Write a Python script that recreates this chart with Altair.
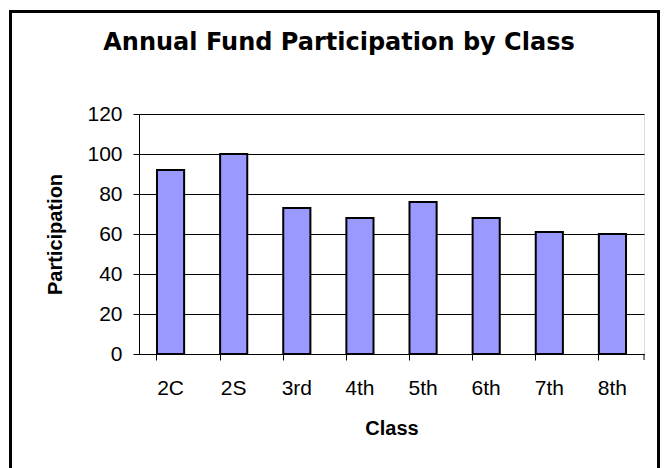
import altair as alt
import pandas as pd

classes = ["2C", "2S", "3rd", "4th", "5th", "6th", "7th", "8th"]
participation = [92, 100, 73, 68, 76, 68, 61, 60]
chart_title = "Annual Fund Participation by Class"

df = pd.DataFrame({"Class": classes, "Participation": participation})

W, H = 505, 240

x_enc = alt.X(
    "Class:N",
    sort=classes,
    scale=alt.Scale(paddingInner=0.57, paddingOuter=0.285),
    axis=alt.Axis(
        title="Class",
        labelAngle=0,
        bandPosition=0,
        tickSize=6,
        tickColor="black",
        domainColor="black",
        labelFont="Liberation Sans",
        labelFontSize=21,
        labelColor="black",
        labelPadding=17,
        titleFont="Liberation Sans",
        titleFontSize=20,
        titleFontWeight="bold",
        titleColor="black",
        titlePadding=20,
        grid=False,
    ),
)

y_enc = alt.Y(
    "Participation:Q",
    scale=alt.Scale(domain=[0, 120], nice=False),
    axis=alt.Axis(
        title="Participation",
        values=[0, 20, 40, 60, 80, 100, 120],
        tickSize=6,
        tickColor="black",
        domainColor="black",
        labelFont="Liberation Sans",
        labelFontSize=21,
        labelColor="black",
        labelPadding=11,
        titleFont="Liberation Sans",
        titleFontSize=20,
        titleFontWeight="bold",
        titleColor="black",
        titlePadding=21,
        grid=True,
        gridColor="black",
        gridWidth=1,
        gridOpacity=1,
    ),
)

bars = alt.Chart(df).mark_bar(
    color="#9999FF", stroke="black", strokeWidth=2
).encode(x=x_enc, y=y_enc)

# closing tick at the right end of the category axis
end_tick = alt.Chart(pd.DataFrame({"k": [0]})).mark_rule(color="black").encode(
    x=alt.value(W), y=alt.value(H), y2=alt.value(H + 6)
)

# chart title
title_txt = alt.Chart(pd.DataFrame({"t": [chart_title]})).mark_text(
    font="DejaVu Sans", fontSize=24, fontWeight="bold", color="black",
    align="center", baseline="alphabetic"
).encode(x=alt.value(200), y=alt.value(-64), text="t:N")

# outer chart-area border
frame = alt.Chart(pd.DataFrame({"k": [0]})).mark_rect(
    fill="transparent", stroke="black", strokeWidth=3
).encode(
    x=alt.value(-128.5), x2=alt.value(519.5), y=alt.value(-102.5), y2=alt.value(370)
)

chart = alt.layer(bars, end_tick, title_txt, frame).properties(
    width=W,
    height=H,
    autosize=alt.AutoSizeParams(type="none"),
    padding={"left": 131, "top": 106, "right": 17, "bottom": 114},
).configure_view(
    fill="#C0C0C0", stroke="#808080", strokeWidth=1.5
).configure(background="white")

chart.save("out.html", embed_options={"renderer": "svg", "actions": False})
